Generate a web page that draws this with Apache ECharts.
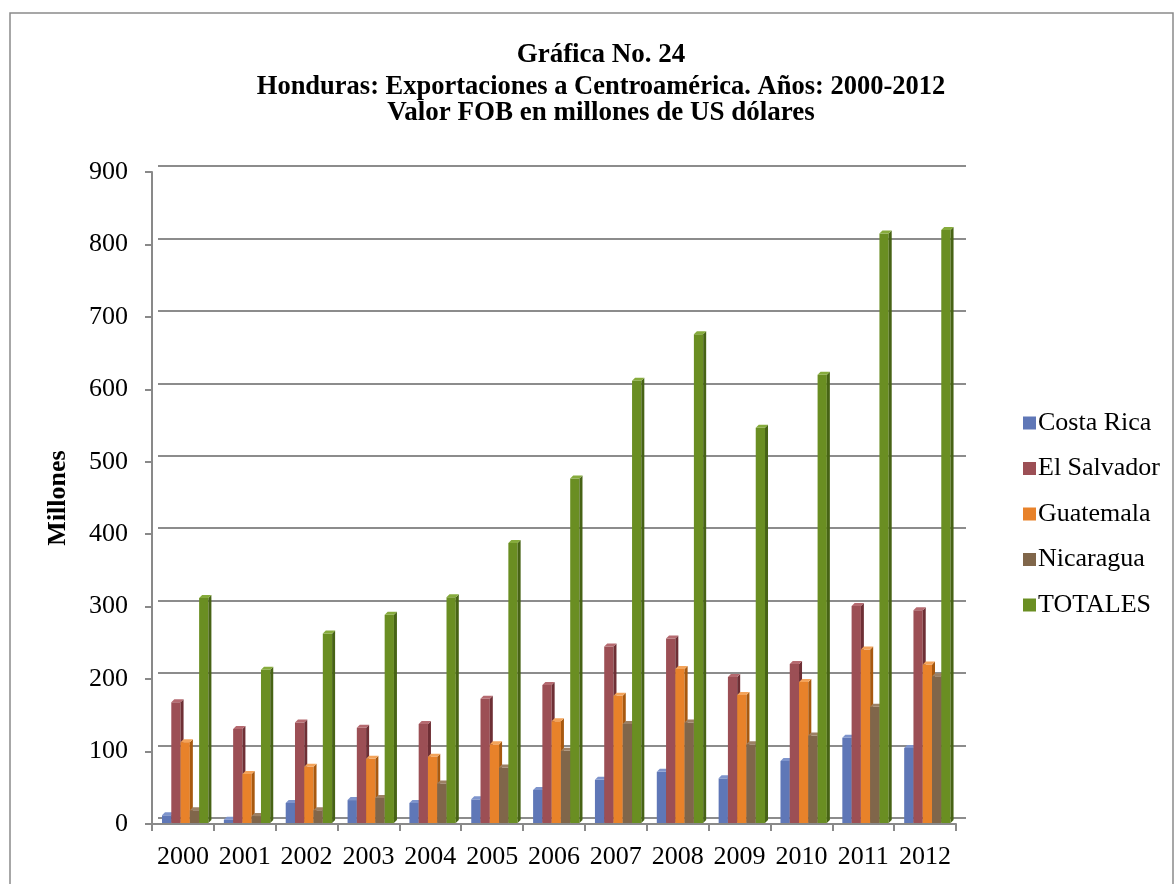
<!DOCTYPE html>
<html><head><meta charset="utf-8">
<script src="https://cdn.jsdelivr.net/npm/echarts@6/dist/echarts.min.js"></script>
<style>html,body{margin:0;padding:0;background:#fff}#c{width:1174px;height:884px}</style>
</head><body><div id="c"></div>
<script>
var years = ['2000','2001','2002','2003','2004','2005','2006','2007','2008','2009','2010','2011','2012'];
var seriesNames = ['Costa Rica','El Salvador','Guatemala','Nicaragua','TOTALES'];
var costaRica  = [12, 6, 29, 33, 29, 34, 47, 61, 72, 63, 87, 119, 105];
var elSalvador = [168, 131, 140, 133, 138, 173, 192, 245, 256, 203, 221, 301, 295];
var guatemala  = [113, 69, 79, 90, 93, 110, 142, 177, 214, 178, 196, 241, 220];
var nicaragua  = [19, 11, 19, 36, 56, 78, 101, 138, 140, 110, 122, 162, 204];
var totales    = [312, 213, 263, 289, 313, 388, 477, 612, 676, 547, 620, 815, 820];
var yTicks = [0,100,200,300,400,500,600,700,800,900];

var allValues = [costaRica, elSalvador, guatemala, nicaragua, totales];
var fronts = ['#5F77B7','#9C4F55','#E8822A','#80664A','#6A8E22'];
var sides  = ['#3F548A','#6E2F35','#A8590F','#5B4530','#476315'];
var tops   = ['#7E94CC','#B56A70','#F3A35A','#9C8064','#86AB3C'];
var FONT = '"Liberation Serif","Times New Roman",serif';

function makeRender(k){
  return function(params, api){
    var ci = api.value(0), v = api.value(1);
    var base = api.coord([ci, 0]);
    var top = api.coord([ci, v]);
    var band = api.size([1, 0])[0];
    var bw = band * 0.15;
    var x0 = base[0] - band/2 + band*0.162 + k*bw;
    var x1 = x0 + bw;
    var y0 = base[1] - 1, y1 = top[1];
    var d = 3;
    return {type:'group', children:[
      {type:'rect', shape:{x:x0, y:y1, width:bw, height:y0-y1}, style:{fill:fronts[k]}},
      {type:'polygon', shape:{points:[[x1,y1],[x1+d,y1-d],[x1+d,y0-d],[x1,y0]]}, style:{fill:sides[k]}},
      {type:'polygon', shape:{points:[[x0,y1],[x0+d,y1-d],[x1+d,y1-d],[x1,y1]]}, style:{fill:tops[k]}}
    ]};
  };
}

var series = seriesNames.map(function(n, k){
  return {
    type:'custom', name:n, xAxisIndex:0, yAxisIndex:0,
    itemStyle:{color:fronts[k]},
    renderItem: makeRender(k),
    encode:{x:0, y:1},
    data: allValues[k].map(function(v, i){ return [i, v]; }),
    z: 5
  };
});

var chart = echarts.init(document.getElementById('c'), null, {renderer:'canvas'});
chart.setOption({
  backgroundColor:'#fff',
  animation:false,
  graphic:[
    {type:'rect', shape:{x:10, y:13, width:1163, height:900}, style:{fill:'none', stroke:'#8a8a8a', lineWidth:1.5}, z:-1},
    {type:'text', x:601, y:55, style:{text:'Gráfica No. 24', font:'bold 27px '+FONT, fill:'#000', textAlign:'center', textVerticalAlign:'middle'}},
    {type:'text', x:601, y:87, style:{text:'Honduras: Exportaciones a Centroamérica. Años: 2000-2012', font:'bold 26.5px '+FONT, fill:'#000', textAlign:'center', textVerticalAlign:'middle'}},
    {type:'text', x:601, y:113, style:{text:'Valor FOB en millones de US dólares', font:'bold 27px '+FONT, fill:'#000', textAlign:'center', textVerticalAlign:'middle'}}
  ],
  grid:[
    {left:152, right:218, top:172, bottom:60},
    {left:158, right:208, top:166, bottom:66}
  ],
  legend:{
    orient:'vertical', left:1018, top:405,
    icon:'rect', itemWidth:13, itemHeight:13, itemGap:19.5,
    textStyle:{fontFamily:FONT, fontSize:26, color:'#000', padding:[0,0,0,-3]},
    data:seriesNames
  },
  xAxis:[
    {type:'category', gridIndex:0, data:years, boundaryGap:true,
     axisLine:{lineStyle:{color:'#898989', width:2}},
     axisTick:{show:true, length:7, lineStyle:{color:'#898989', width:2}, alignWithLabel:false, interval:0},
     axisLabel:{fontFamily:FONT, fontSize:26, color:'#000', margin:20, interval:0}},
    {type:'category', gridIndex:1, data:years, show:false}
  ],
  yAxis:[
    {type:'value', gridIndex:0, min:0, max:900, interval:100,
     axisLine:{show:true, lineStyle:{color:'#898989', width:2}},
     axisTick:{show:true, length:7, lineStyle:{color:'#898989', width:2}},
     splitLine:{show:false},
     axisLabel:{fontFamily:FONT, fontSize:26, color:'#000', margin:24,
       formatter:function(v){ return yTicks.indexOf(v) >= 0 ? String(v) : ''; }},
     name:'Millones', nameLocation:'middle', nameGap:81, nameRotate:90,
     nameTextStyle:{fontFamily:FONT, fontSize:26, fontWeight:'bold', color:'#000'}},
    {type:'value', gridIndex:1, min:0, max:900, interval:100,
     axisLine:{show:false}, axisTick:{show:false}, axisLabel:{show:false},
     splitLine:{show:true, lineStyle:{color:'#8c8c8c', width:2}}}
  ],
  series: series
});
</script></body></html>
